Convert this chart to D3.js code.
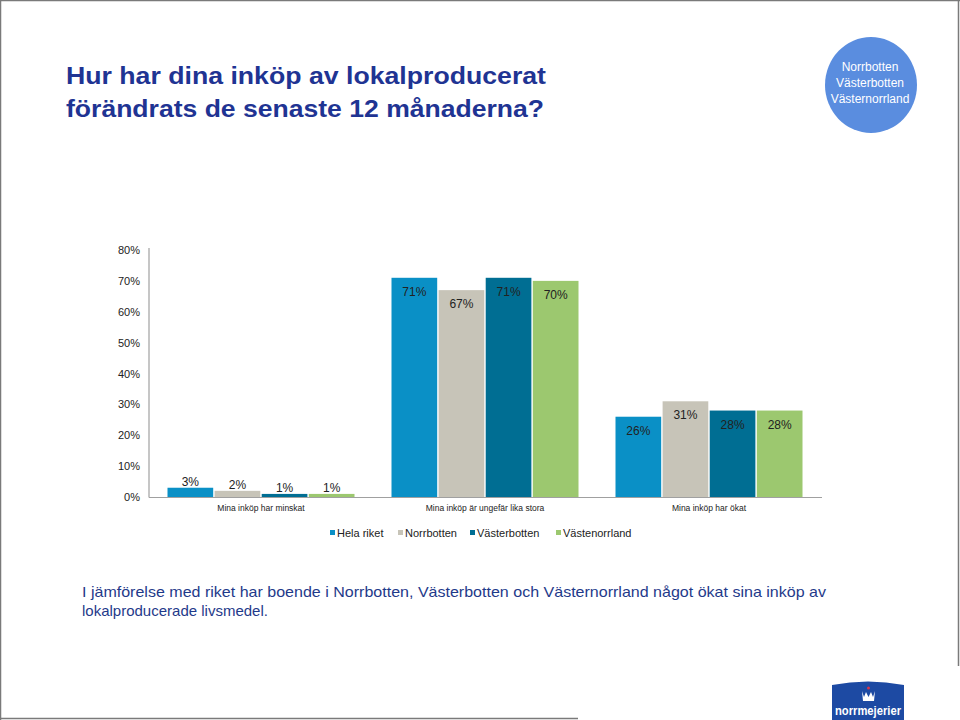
<!DOCTYPE html>
<html><head><meta charset="utf-8">
<script src="https://cdn.jsdelivr.net/npm/d3@7"></script>
<style>body{margin:0;background:#fff}svg{display:block}</style>
</head><body>
<svg id="c" width="960" height="720"></svg>
<script>
const categories = ["Mina inköp har minskat", "Mina inköp är ungefär lika stora", "Mina inköp har ökat"];
const seriesNames = ["Hela riket", "Norrbotten", "Västerbotten", "Västenorrland"];
const helaRiket = [3, 71, 26];
const norrbotten = [2, 67, 31];
const vasterbotten = [1, 71, 28];
const vastenorrland = [1, 70, 28];
const yTicks = [0, 10, 20, 30, 40, 50, 60, 70, 80];
const colors = ["#0a90c6", "#c7c4b8", "#006e93", "#9cc86f"];

const seriesValues = [helaRiket, norrbotten, vasterbotten, vastenorrland];
const svg = d3.select("#c");
const font = "'Liberation Sans', Arial, sans-serif";

// frame
svg.append("line").attr("x1",0.5).attr("y1",0).attr("x2",0.5).attr("y2",720).attr("stroke","#7a7a7a").attr("stroke-width",1.5);
svg.append("line").attr("x1",0).attr("y1",0.5).attr("x2",960).attr("y2",0.5).attr("stroke","#7a7a7a").attr("stroke-width",1.5);
svg.append("line").attr("x1",958.5).attr("y1",0).attr("x2",958.5).attr("y2",666).attr("stroke","#7a7a7a").attr("stroke-width",1.5);
svg.append("line").attr("x1",0).attr("y1",718.5).attr("x2",578).attr("y2",718.5).attr("stroke","#7a7a7a").attr("stroke-width",1.5);

// title
const title = svg.append("text").attr("font-family",font).attr("font-weight","bold").attr("font-size",24).attr("fill","#1f3493");
title.append("tspan").attr("x",66).attr("y",84).attr("textLength",480).attr("lengthAdjust","spacingAndGlyphs").text("Hur har dina inköp av lokalproducerat");
title.append("tspan").attr("x",66).attr("y",117).attr("textLength",478).attr("lengthAdjust","spacingAndGlyphs").text("förändrats de senaste 12 månaderna?");

// circle badge
svg.append("ellipse").attr("cx",871).attr("cy",85).attr("rx",46).attr("ry",48).attr("fill","#5a8ddf");
["Norrbotten","Västerbotten","Västernorrland"].forEach((t,i)=>{
  svg.append("text").attr("x",870).attr("y",71+i*16).attr("text-anchor","middle").attr("font-family",font).attr("font-size",12).attr("fill","#fff").text(t);
});

// chart
const x0 = d3.scaleBand().domain(categories).range([149, 821]).paddingInner(0).paddingOuter(0);
const x1 = d3.scaleBand().domain(seriesNames).range([18.5, x0.bandwidth()-18.5]).paddingInner(0.03).paddingOuter(0);
const y = d3.scaleLinear().domain([0, 80]).range([497, 250]);

const g = svg.append("g");
// y tick labels
g.selectAll(".yt").data(yTicks).enter().append("text")
  .attr("x",140).attr("y",d=>y(d)+4).attr("text-anchor","end")
  .attr("font-family",font).attr("font-size",11).attr("fill","#222").text(d=>d+"%");

// bars
categories.forEach((cat,ci)=>{
  seriesNames.forEach((s,si)=>{
    const v = seriesValues[si][ci];
    const bx = x0(cat)+x1(s), bw = x1.bandwidth();
    g.append("rect").attr("x",bx).attr("y",y(v)).attr("width",bw).attr("height",y(0)-y(v)).attr("fill",colors[si]);
    const inside = (y(0)-y(v)) > 20;
    g.append("text").attr("x",bx+bw/2).attr("y", inside ? y(v)+18 : y(v)-2)
      .attr("text-anchor","middle").attr("font-family",font).attr("font-size",12).attr("fill","#222").text(v+"%");
  });
  g.append("text").attr("x",x0(cat)+x0.bandwidth()/2).attr("y",511).attr("text-anchor","middle")
    .attr("font-family",font).attr("font-size",8.5).attr("fill","#222").text(cat);
});

// axes lines
g.append("line").attr("x1",149).attr("y1",248).attr("x2",149).attr("y2",497.5).attr("stroke","#a0a0a0").attr("stroke-width",1.2);
g.append("line").attr("x1",149).attr("y1",497.5).attr("x2",822).attr("y2",497.5).attr("stroke","#a0a0a0").attr("stroke-width",1.2);

// legend
const legX = [330, 398, 470, 556];
seriesNames.forEach((s,i)=>{
  svg.append("rect").attr("x",legX[i]).attr("y",530).attr("width",5).attr("height",5).attr("fill",colors[i]);
  svg.append("text").attr("x",legX[i]+7).attr("y",537).attr("font-family",font).attr("font-size",11).attr("fill","#222").text(s);
});

// footer text
const ft = svg.append("text").attr("font-family",font).attr("font-size",15).attr("fill","#1f3a8a");
ft.append("tspan").attr("x",82).attr("y",597).attr("textLength",744).attr("lengthAdjust","spacingAndGlyphs").text("I jämförelse med riket har boende i Norrbotten, Västerbotten och Västernorrland något ökat sina inköp av");
ft.append("tspan").attr("x",82).attr("y",616).text("lokalproducerade livsmedel.");

// logo
svg.append("path").attr("d","M832,685 Q868,678 904,685 L904,720 L832,720 Z").attr("fill","#1d4aa3");
svg.append("circle").attr("cx",868.5).attr("cy",688).attr("r",1.5).attr("fill","#d8334a");
svg.append("path").attr("d","M862,691 L864,697 L866,692 L868.5,697 L871,692 L873,697 L875,691 L874,701 L863,701 Z").attr("fill","#fff");
svg.append("text").attr("x",868).attr("y",715).attr("text-anchor","middle").attr("font-family",font).attr("font-weight","bold").attr("font-size",12).attr("fill","#fff").attr("textLength",66).attr("lengthAdjust","spacingAndGlyphs").text("norrmejerier");
</script>
</body></html>
